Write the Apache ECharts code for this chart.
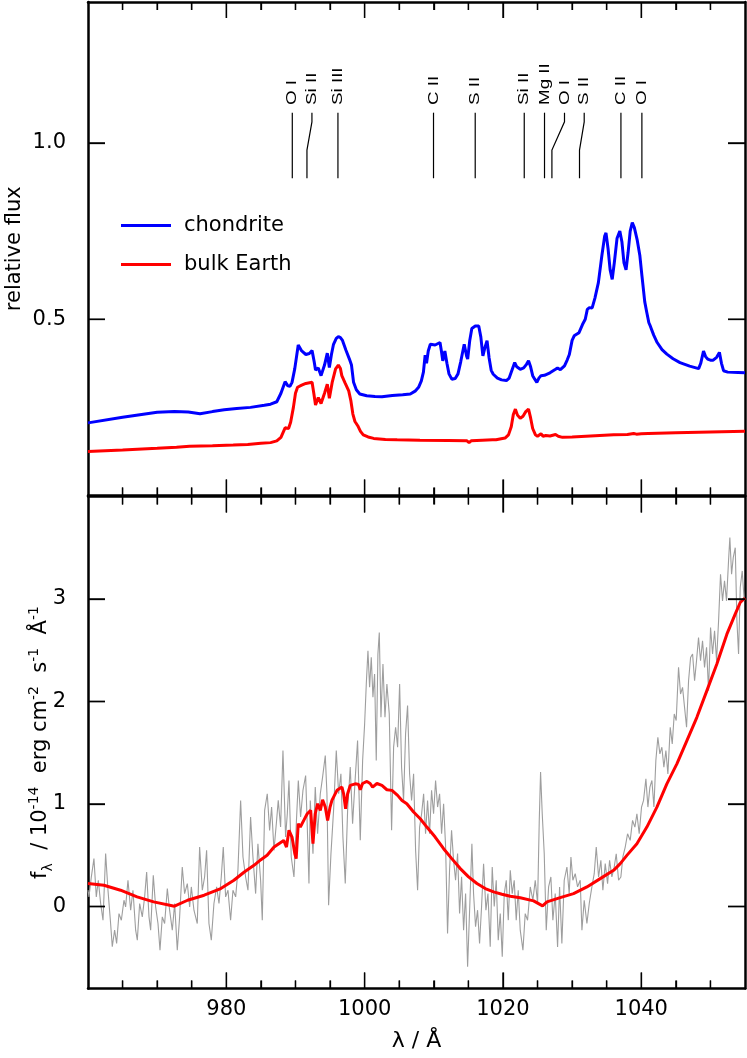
<!DOCTYPE html>
<html>
<head>
<meta charset="utf-8">
<script src="https://cdn.jsdelivr.net/npm/echarts@6/dist/echarts.min.js"></script>
<style>
  html, body { margin: 0; padding: 0; background: #fff; }
  #main { width: 747px; height: 1058px; }
</style>
</head>
<body>
<div id="main"></div>
<script>
// top panel: relative flux of the two model spectra
const chondriteWave = [960.0, 965.0, 970.0, 972.5, 974.5, 976.2, 978.0, 979.7, 981.5, 983.5, 985.5, 986.4, 987.3, 987.9, 988.5, 988.9, 989.2, 989.5, 989.9, 990.4, 990.9, 991.5, 992.0, 992.4, 992.7, 992.9, 993.3, 993.7, 994.2, 994.6, 994.9, 995.2, 995.5, 995.9, 996.2, 996.5, 996.8, 997.3, 997.8, 998.1, 998.4, 998.8, 999.3, 1000.3, 1001.5, 1002.5, 1004.0, 1005.5, 1006.6, 1007.3, 1007.8, 1008.2, 1008.5, 1008.75, 1008.95, 1009.2, 1009.5, 1010.2, 1010.9, 1011.1, 1011.3, 1011.6, 1011.9, 1012.2, 1012.6, 1013.1, 1013.5, 1013.9, 1014.4, 1014.75, 1014.9, 1015.2, 1015.5, 1016.0, 1016.5, 1016.8, 1017.1, 1017.4, 1017.7, 1018.0, 1018.3, 1018.6, 1019.2, 1019.8, 1020.5, 1020.9, 1021.3, 1021.7, 1022.0, 1022.5, 1023.0, 1023.4, 1023.7, 1024.0, 1024.3, 1024.6, 1024.9, 1025.2, 1025.5, 1026.0, 1026.8, 1027.6, 1027.9, 1028.3, 1028.9, 1029.3, 1029.6, 1030.0, 1030.3, 1030.7, 1031.0, 1031.5, 1031.9, 1032.2, 1032.5, 1032.9, 1033.3, 1033.8, 1034.3, 1034.7, 1034.9, 1035.2, 1035.5, 1035.8, 1036.1, 1036.5, 1036.9, 1037.2, 1037.5, 1037.8, 1038.1, 1038.4, 1038.7, 1039.0, 1039.4, 1039.8, 1040.1, 1040.5, 1040.8, 1041.1, 1041.3, 1041.8, 1042.3, 1043.0, 1043.7, 1044.6, 1045.6, 1047.0, 1048.3, 1048.6, 1049.0, 1049.3, 1049.6, 1050.0, 1050.4, 1050.9, 1051.3, 1051.6, 1051.9, 1052.5, 1054.0, 1055.0];
const chondriteFlux = [0.206, 0.222, 0.236, 0.238, 0.237, 0.232, 0.238, 0.243, 0.247, 0.250, 0.256, 0.259, 0.266, 0.290, 0.323, 0.311, 0.310, 0.321, 0.360, 0.427, 0.410, 0.400, 0.403, 0.411, 0.380, 0.356, 0.362, 0.340, 0.370, 0.404, 0.363, 0.400, 0.429, 0.446, 0.451, 0.448, 0.440, 0.412, 0.387, 0.370, 0.321, 0.300, 0.288, 0.283, 0.281, 0.280, 0.284, 0.286, 0.288, 0.296, 0.307, 0.325, 0.350, 0.398, 0.375, 0.410, 0.429, 0.427, 0.434, 0.410, 0.382, 0.410, 0.375, 0.345, 0.330, 0.332, 0.345, 0.380, 0.429, 0.395, 0.387, 0.440, 0.474, 0.481, 0.481, 0.450, 0.396, 0.420, 0.439, 0.390, 0.355, 0.344, 0.333, 0.328, 0.326, 0.333, 0.355, 0.377, 0.365, 0.358, 0.362, 0.372, 0.382, 0.365, 0.340, 0.330, 0.321, 0.333, 0.340, 0.341, 0.348, 0.358, 0.362, 0.357, 0.368, 0.385, 0.400, 0.440, 0.453, 0.458, 0.462, 0.485, 0.500, 0.528, 0.533, 0.532, 0.560, 0.604, 0.680, 0.735, 0.745, 0.700, 0.640, 0.613, 0.660, 0.730, 0.750, 0.720, 0.660, 0.640, 0.690, 0.750, 0.774, 0.760, 0.726, 0.680, 0.623, 0.550, 0.519, 0.490, 0.481, 0.455, 0.434, 0.414, 0.401, 0.388, 0.377, 0.367, 0.360, 0.375, 0.410, 0.394, 0.387, 0.384, 0.384, 0.392, 0.406, 0.375, 0.354, 0.350, 0.349, 0.348];

const earthWave = [960.0, 965.0, 970.0, 972.8, 974.7, 978.0, 981.0, 983.1, 985.0, 986.4, 987.3, 987.9, 988.5, 989.0, 989.3, 989.7, 990.0, 990.3, 990.9, 991.5, 992.4, 992.65, 992.9, 993.3, 993.7, 994.2, 994.6, 994.9, 995.3, 995.8, 996.2, 996.5, 996.7, 997.2, 997.7, 998.0, 998.3, 998.6, 999.0, 999.4, 999.8, 1000.5, 1001.3, 1003.0, 1004.7, 1008.0, 1012.0, 1014.8, 1015.1, 1015.4, 1017.0, 1018.5, 1018.7, 1019.0, 1020.3, 1020.8, 1021.2, 1021.5, 1021.8, 1022.1, 1022.5, 1022.9, 1023.3, 1023.7, 1024.0, 1024.3, 1024.7, 1025.0, 1025.5, 1025.8, 1026.2, 1026.8, 1027.6, 1028.0, 1028.6, 1030.0, 1032.0, 1034.0, 1036.0, 1038.0, 1038.9, 1039.3, 1040.0, 1041.0, 1045.0, 1050.0, 1055.0];
const earthFlux = [0.125, 0.129, 0.134, 0.137, 0.140, 0.141, 0.143, 0.145, 0.148, 0.150, 0.155, 0.165, 0.192, 0.190, 0.208, 0.250, 0.290, 0.307, 0.313, 0.318, 0.321, 0.290, 0.257, 0.278, 0.261, 0.290, 0.316, 0.276, 0.320, 0.359, 0.370, 0.360, 0.340, 0.318, 0.297, 0.270, 0.231, 0.210, 0.198, 0.182, 0.172, 0.166, 0.162, 0.159, 0.158, 0.157, 0.156, 0.155, 0.150, 0.155, 0.157, 0.158, 0.155, 0.158, 0.163, 0.172, 0.195, 0.230, 0.245, 0.228, 0.219, 0.225, 0.238, 0.245, 0.220, 0.190, 0.172, 0.168, 0.175, 0.168, 0.170, 0.169, 0.173, 0.168, 0.165, 0.166, 0.168, 0.170, 0.172, 0.173, 0.176, 0.174, 0.175, 0.176, 0.178, 0.180, 0.182];

// line identifications: wavelength at the foot of the tick and under the label
const lineIds = ['O I', 'Si II', 'Si III', 'C II', 'S II', 'Si II', 'Mg II', 'O I', 'S II', 'C II', 'O I'];
const lineFoot = [989.54, 991.66, 996.14, 1009.96, 1015.99, 1023.08, 1026.01, 1027.08, 1031.07, 1037.06, 1040.09];
const lineHead = [989.54, 992.38, 996.14, 1009.96, 1015.99, 1023.08, 1026.01, 1028.90, 1031.75, 1037.06, 1040.09];

// bottom panel: observed flux and model, 1e-14 erg cm-2 s-1 A-1
const obsWave = [960.0, 960.14, 960.48, 960.86, 961.2, 961.49, 961.83, 962.17, 962.55, 962.89, 963.27, 963.51, 963.85, 964.14, 964.48, 964.82, 965.2, 965.44, 965.78, 966.17, 966.5, 966.89, 967.13, 967.47, 967.85, 968.19, 968.48, 968.82, 969.06, 969.44, 969.78, 970.12, 970.41, 970.74, 971.08, 971.47, 971.8, 972.19, 972.53, 972.91, 973.25, 973.63, 973.97, 974.36, 974.7, 974.94, 975.32, 975.8, 976.14, 976.53, 976.86, 977.15, 977.49, 977.83, 978.21, 978.6, 978.94, 979.27, 979.56, 979.9, 980.24, 980.62, 980.96, 981.35, 981.68, 982.07, 982.41, 982.79, 983.13, 983.51, 983.85, 984.24, 984.57, 984.96, 985.2, 985.54, 985.92, 986.26, 986.55, 986.89, 987.23, 987.51, 987.85, 988.19, 988.57, 988.82, 989.06, 989.39, 989.78, 990.12, 990.41, 990.74, 991.08, 991.47, 991.8, 991.95, 992.14, 992.53, 992.86, 993.2, 993.59, 993.92, 994.31, 994.55, 994.79, 995.13, 995.51, 995.9, 996.24, 996.57, 996.86, 997.2, 997.54, 997.92, 998.26, 998.65, 998.98, 999.37, 999.71, 1000.0, 1000.24, 1000.48, 1000.72, 1000.96, 1001.2, 1001.44, 1001.68, 1001.92, 1002.12, 1002.36, 1002.65, 1002.94, 1003.22, 1003.56, 1003.9, 1004.19, 1004.48, 1004.77, 1005.06, 1005.34, 1005.63, 1005.92, 1006.21, 1006.5, 1006.79, 1007.08, 1007.37, 1007.66, 1007.95, 1008.24, 1008.53, 1008.81, 1009.1, 1009.39, 1009.68, 1009.97, 1010.26, 1010.55, 1010.84, 1011.13, 1011.42, 1011.71, 1011.99, 1012.28, 1012.57, 1012.86, 1013.15, 1013.44, 1013.73, 1014.02, 1014.31, 1014.6, 1014.89, 1015.18, 1015.51, 1015.75, 1016.04, 1016.33, 1016.62, 1016.91, 1017.2, 1017.54, 1017.83, 1018.16, 1018.45, 1018.74, 1019.03, 1019.32, 1019.61, 1019.9, 1020.19, 1020.48, 1020.77, 1021.06, 1021.34, 1021.63, 1021.92, 1022.21, 1022.5, 1022.89, 1023.22, 1023.56, 1023.95, 1024.33, 1024.67, 1025.01, 1025.25, 1025.44, 1025.68, 1025.97, 1026.26, 1026.6, 1026.93, 1027.22, 1027.56, 1027.9, 1028.19, 1028.52, 1028.86, 1029.25, 1029.58, 1029.83, 1030.11, 1030.45, 1030.79, 1031.17, 1031.42, 1031.75, 1032.14, 1032.48, 1032.86, 1033.2, 1033.49, 1033.83, 1034.16, 1034.45, 1034.79, 1035.13, 1035.42, 1035.75, 1036.09, 1036.38, 1036.72, 1037.05, 1037.34, 1037.68, 1038.02, 1038.4, 1038.74, 1039.08, 1039.37, 1039.7, 1040.04, 1040.33, 1040.67, 1040.96, 1041.25, 1041.54, 1041.83, 1042.11, 1042.4, 1042.69, 1042.98, 1043.27, 1043.56, 1043.85, 1044.19, 1044.48, 1044.77, 1045.05, 1045.39, 1045.68, 1045.97, 1046.26, 1046.55, 1046.84, 1047.13, 1047.42, 1047.71, 1047.99, 1048.28, 1048.57, 1048.86, 1049.15, 1049.44, 1049.73, 1050.02, 1050.31, 1050.6, 1050.89, 1051.18, 1051.46, 1051.75, 1052.04, 1052.33, 1052.62, 1052.81, 1053.06, 1053.3, 1053.59, 1053.83, 1054.07, 1054.31, 1054.6, 1054.89];
const obsFlux = [0.16, 0.094, 0.288, 0.467, 0.094, 0.256, 0.029, -0.134, 0.516, 0.159, -0.166, -0.393, -0.231, -0.36, -0.069, -0.134, 0.061, -0.004, 0.256, -0.036, 0.159, -0.231, -0.328, 0.029, -0.101, 0.094, 0.337, -0.101, -0.231, 0.305, -0.004, -0.166, -0.426, -0.101, -0.166, 0.175, -0.036, -0.231, 0.029, -0.426, -0.101, 0.386, 0.126, 0.224, -0.004, 0.191, -0.036, -0.166, 0.58, 0.159, 0.288, 0.548, -0.166, -0.328, 0.029, 0.191, 0.029, 0.288, 0.58, 0.094, 0.159, -0.134, 0.159, 0.094, 0.353, 1.035, 0.483, 0.288, 0.159, 0.873, 0.483, 0.126, 0.613, 0.256, -0.134, 0.937, 1.1, 0.743, 0.97, 0.548, 0.808, 1.035, 0.775, 1.522, 0.678, 0.905, 1.23, 0.483, 0.288, 0.808, 1.23, 0.873, 1.132, 1.278, 0.58, 0.224, 1.035, 0.516, 1.165, 0.71, 1.1, 1.262, 1.473, 1.1, 0.013, 0.516, 0.938, 1.522, 1.1, 1.295, 0.678, 0.224, 0.938, 1.36, 0.808, 1.262, 1.619, 0.646, 1.425, 1.782, 2.171, 2.496, 2.139, 2.431, 2.041, 2.268, 1.425, 2.463, 2.674, 1.847, 2.366, 1.847, 2.171, 1.879, 0.743, 1.555, 1.749, 1.555, 2.171, 1.36, 1.035, 1.684, 1.96, 1.295, 1.035, 1.295, 0.548, 0.159, 0.775, 0.905, 1.1, 0.71, 1.035, 0.71, 1.133, 0.905, 1.23, 0.97, 1.1, 0.71, 1.003, 0.581, -0.263, 0.353, 0.743, 0.451, 0.256, 0.516, -0.068, 0.289, -0.231, 0.126, -0.588, -0.036, 0.613, 0.126, -0.198, -0.036, -0.361, 0.0, 0.418, -0.036, 0.126, -0.393, 0.386, 0.0, 0.256, -0.328, -0.068, -0.49, 0.126, 0.256, -0.133, 0.353, 0.126, 0.256, -0.133, 0.159, -0.231, -0.426, -0.069, -0.134, 0.191, 0.061, 0.256, 0.029, 0.84, 1.311, 0.905, 0.515, -0.231, 0.191, 0.288, -0.134, 0.126, -0.394, 0.191, -0.361, 0.256, 0.385, 0.126, 0.483, 0.256, 0.32, 0.191, 0.256, -0.231, 0.061, -0.166, 0.029, 0.191, 0.32, 0.58, 0.288, 0.45, 0.158, 0.418, 0.223, 0.45, 0.288, 0.385, 0.515, 0.256, 0.288, 0.483, 0.58, 0.71, 0.645, 0.84, 0.775, 0.905, 0.71, 0.97, 1.035, 1.246, 0.97, 1.165, 1.23, 0.97, 1.424, 1.651, 1.489, 1.554, 1.359, 1.522, 1.294, 1.749, 1.586, 1.878, 1.814, 2.333, 2.073, 2.138, 1.943, 1.749, 2.203, 2.43, 2.463, 2.203, 2.398, 2.625, 2.398, 2.593, 2.333, 2.528, 2.106, 2.722, 2.463, 2.69, 2.398, 2.787, 3.242, 2.982, 3.177, 2.982, 3.372, 3.599, 3.242, 3.404, 3.501, 2.787, 2.463, 3.112, 3.274, 2.982];

const modelWave = [960.0, 962.3, 964.7, 967.1, 969.5, 972.5, 974.4, 976.8, 979.2, 981.1, 982.6, 984.0, 985.0, 985.9, 986.9, 987.6, 988.3, 988.7, 989.06, 989.5, 989.9, 990.1, 990.4, 990.7, 991.2, 991.7, 992.2, 992.53, 992.86, 993.2, 993.59, 993.92, 994.31, 994.65, 995.0, 995.27, 996.0, 996.72, 996.96, 997.25, 997.54, 997.92, 998.65, 999.13, 999.37, 999.7, 1000.33, 1000.8, 1001.15, 1001.78, 1002.5, 1003.22, 1003.95, 1004.77, 1005.4, 1006.1, 1007.08, 1008.04, 1009.0, 1010.2, 1011.42, 1012.6, 1013.83, 1015.03, 1016.24, 1017.44, 1018.65, 1019.85, 1021.06, 1022.5, 1024.43, 1025.73, 1026.36, 1028.28, 1030.21, 1032.14, 1034.07, 1036.0, 1036.96, 1037.92, 1039.37, 1040.81, 1042.26, 1043.7, 1045.15, 1046.6, 1048.04, 1049.49, 1050.93, 1052.38, 1053.58, 1054.31, 1055.0];
const modelFlux = [0.224, 0.207, 0.159, 0.094, 0.045, 0.003, 0.061, 0.110, 0.175, 0.256, 0.337, 0.402, 0.457, 0.500, 0.580, 0.613, 0.645, 0.580, 0.743, 0.678, 0.516, 0.467, 0.808, 0.775, 0.840, 0.905, 0.937, 0.613, 0.905, 1.003, 0.938, 1.042, 0.970, 0.840, 0.970, 1.035, 1.133, 1.165, 1.100, 0.954, 1.100, 1.181, 1.197, 1.190, 1.139, 1.200, 1.220, 1.200, 1.165, 1.200, 1.181, 1.139, 1.133, 1.084, 1.035, 1.003, 0.922, 0.856, 0.775, 0.678, 0.564, 0.467, 0.370, 0.289, 0.224, 0.175, 0.143, 0.120, 0.100, 0.085, 0.055, 0.006, 0.045, 0.087, 0.126, 0.191, 0.272, 0.353, 0.418, 0.499, 0.613, 0.775, 0.970, 1.197, 1.392, 1.619, 1.846, 2.106, 2.365, 2.657, 2.852, 2.966, 3.010];

// axis ticks
const majorX = [980, 1000, 1020, 1040];
const minorX = [965, 970, 975, 985, 990, 995, 1005, 1010, 1015, 1025, 1030, 1035, 1045, 1050];
const fluxTicks = [0.5, 1.0];
const flamTicks = [0, 1, 2, 3];

const FONT = 'DejaVu Sans';
const idFoot = 0.900, idKnee = 0.980, idShoulder = 1.060, idTop = 1.086, idLabel = 1.108;

// panel layout in pixels (used to express tick lengths in data units)
const PLOT_W = 657, TOP_H = 493.5, BOT_H = 492;

const chart = echarts.init(document.getElementById('main'));

function zip(xs, ys) {
  return xs.map((x, i) => [x, ys[i]]);
}

function frameAxis(gridIndex, position, min, max) {
  return {
    type: 'value', gridIndex: gridIndex, position: position, min: min, max: max,
    axisLine: { show: true, onZero: false, lineStyle: { color: '#000', width: 2.5 } },
    splitLine: { show: false },
    axisTick: { show: false },
    axisLabel: { show: false }
  };
}

// tick segments [[x1, y1], [x2, y2]] in data space for one panel
function tickSegments(yMin, yMax, yTicks, pxH) {
  const yUnit = (yMax - yMin) / pxH;
  const xUnit = 95 / PLOT_W;
  const segs = [];
  [[majorX, 16], [minorX, 8]].forEach(([vals, len]) => {
    vals.forEach(v => {
      segs.push([[v, yMin], [v, yMin + len * yUnit]]);
      segs.push([[v, yMax], [v, yMax - len * yUnit]]);
    });
  });
  yTicks.forEach(v => {
    segs.push([[960, v], [960 + 17 * xUnit, v]]);
    segs.push([[1055, v], [1055 - 17 * xUnit, v]]);
  });
  return segs;
}

// inward tick marks drawn as broken line segments
function tickSeries(xi, yi, segs) {
  const pts = [];
  segs.forEach(s => pts.push(s[0], s[1], [s[0][0], '-']));
  return {
    type: 'line', xAxisIndex: xi, yAxisIndex: yi, data: pts, symbol: 'none',
    connectNulls: false, clip: false, silent: true, z: 6,
    lineStyle: { color: '#000', width: 1.3 }
  };
}

// the same tick marks as a markLine, as a second route
function tickMarks(segs) {
  return {
    silent: true, symbol: ['none', 'none'], animation: false,
    label: { show: false },
    lineStyle: { color: '#000', width: 1.3, type: 'solid' },
    data: segs.map(s => [{ coord: s[0] }, { coord: s[1] }])
  };
}

const topSegs = tickSegments(0, 1.4, fluxTicks, TOP_H);
const botSegs = tickSegments(-0.8, 4, flamTicks, BOT_H);

const xBottom = frameAxis(1, 'bottom', 960, 1055);
xBottom.axisLabel = { show: true, customValues: majorX, margin: 11, color: '#000', fontFamily: FONT, fontSize: 21, formatter: v => String(v) };
xBottom.name = 'λ / Å';
xBottom.nameLocation = 'middle';
xBottom.nameGap = 42;
xBottom.nameMoveOverlap = false;
xBottom.nameTextStyle = { color: '#000', fontFamily: FONT, fontSize: 22 };

const yTopLeft = frameAxis(0, 'left', 0, 1.4);
yTopLeft.axisLabel = { show: true, customValues: fluxTicks, margin: 22, color: '#000', fontFamily: FONT, fontSize: 21, formatter: v => v.toFixed(1) };
yTopLeft.name = 'relative flux';
yTopLeft.nameLocation = 'middle';
yTopLeft.nameGap = 63;
yTopLeft.nameMoveOverlap = false;
yTopLeft.nameTextStyle = { color: '#000', fontFamily: FONT, fontSize: 21 };

const yBotLeft = frameAxis(1, 'left', -0.8, 4);
yBotLeft.axisLabel = { show: true, customValues: flamTicks, margin: 22, color: '#000', fontFamily: FONT, fontSize: 21, formatter: v => String(v) };
yBotLeft.name = 'f{sub|λ}  / 10{sup|-14}  erg cm{sup|-2}  s{sup|-1}  Å{sup|-1}';
yBotLeft.nameLocation = 'middle';
yBotLeft.nameGap = 33;
yBotLeft.nameMoveOverlap = false;
yBotLeft.nameTextStyle = {
  color: '#000', fontFamily: FONT, fontSize: 21, lineHeight: 28,
  rich: {
    sup: { fontFamily: FONT, fontSize: 14, verticalAlign: 'top', color: '#000' },
    sub: { fontFamily: FONT, fontSize: 14, verticalAlign: 'bottom', color: '#000' }
  }
};

const option = {
  animation: false,
  backgroundColor: '#fff',
  grid: [
    { left: 88, right: 2, top: 2, height: TOP_H, containLabel: false, outerBoundsMode: 'none', show: false },
    { left: 88, right: 2, top: 496.5, height: BOT_H, containLabel: false, outerBoundsMode: 'none', show: false }
  ],
  legend: {
    data: [
      { name: 'chondrite', icon: 'rect' },
      { name: 'bulk Earth', icon: 'rect' }
    ],
    orient: 'vertical',
    left: 121, top: 215,
    padding: 0,
    itemWidth: 50, itemHeight: 3, itemGap: 18,
    selectedMode: false,
    textStyle: { color: '#000', fontFamily: FONT, fontSize: 21, padding: [0, 0, 0, 8] }
  },
  xAxis: [
    frameAxis(0, 'bottom', 960, 1055),
    frameAxis(0, 'top', 960, 1055),
    xBottom,
    frameAxis(1, 'top', 960, 1055)
  ],
  yAxis: [
    yTopLeft,
    frameAxis(0, 'right', 0, 1.4),
    yBotLeft,
    frameAxis(1, 'right', -0.8, 4)
  ],
  series: [
    {
      name: 'chondrite', type: 'line', xAxisIndex: 0, yAxisIndex: 0,
      data: zip(chondriteWave, chondriteFlux), symbol: 'none',
      lineStyle: { color: '#0000ff', width: 3 }, itemStyle: { color: '#0000ff' }, z: 4,
      markLine: tickMarks(topSegs)
    },
    {
      name: 'bulk Earth', type: 'line', xAxisIndex: 0, yAxisIndex: 0,
      data: zip(earthWave, earthFlux), symbol: 'none',
      lineStyle: { color: '#ff0000', width: 3 }, itemStyle: { color: '#ff0000' }, z: 4
    },
    {
      name: 'ids', type: 'custom', xAxisIndex: 0, yAxisIndex: 0,
      data: lineFoot.map((w, i) => [w, lineHead[i], idLabel]),
      encode: { x: [0, 1], y: 2 },
      renderItem: function (params, api) {
        const i = params.dataIndex;
        const foot = api.coord([api.value(0), idFoot]);
        const knee = api.coord([api.value(0), idKnee]);
        const shoulder = api.coord([api.value(1), idShoulder]);
        const top = api.coord([api.value(1), idTop]);
        const lab = api.coord([api.value(1), idLabel]);
        return {
          type: 'group',
          children: [
            { type: 'polyline', shape: { points: [foot, knee, shoulder, top] }, style: { stroke: '#000', lineWidth: 1.2, fill: 'none' } },
            {
              type: 'text', x: lab[0], y: lab[1], rotation: Math.PI / 2, scaleX: 1.25, scaleY: 1,
              style: { text: lineIds[i], fill: '#000', fontFamily: 'Liberation Sans', fontSize: 15, align: 'left', verticalAlign: 'middle' }
            }
          ]
        };
      },
      z: 3
    },
    {
      name: 'observed', type: 'line', xAxisIndex: 2, yAxisIndex: 2,
      data: zip(obsWave, obsFlux), symbol: 'none',
      lineStyle: { color: '#9e9e9e', width: 1.1 }, itemStyle: { color: '#9e9e9e' }, z: 2
    },
    {
      name: 'model', type: 'line', xAxisIndex: 2, yAxisIndex: 2,
      data: zip(modelWave, modelFlux), symbol: 'none',
      lineStyle: { color: '#ff0000', width: 3 }, itemStyle: { color: '#ff0000' }, z: 4,
      markLine: tickMarks(botSegs)
    },
    tickSeries(0, 0, topSegs),
    tickSeries(2, 2, botSegs)
  ]
};

chart.setOption(option);
</script>
</body>
</html>
